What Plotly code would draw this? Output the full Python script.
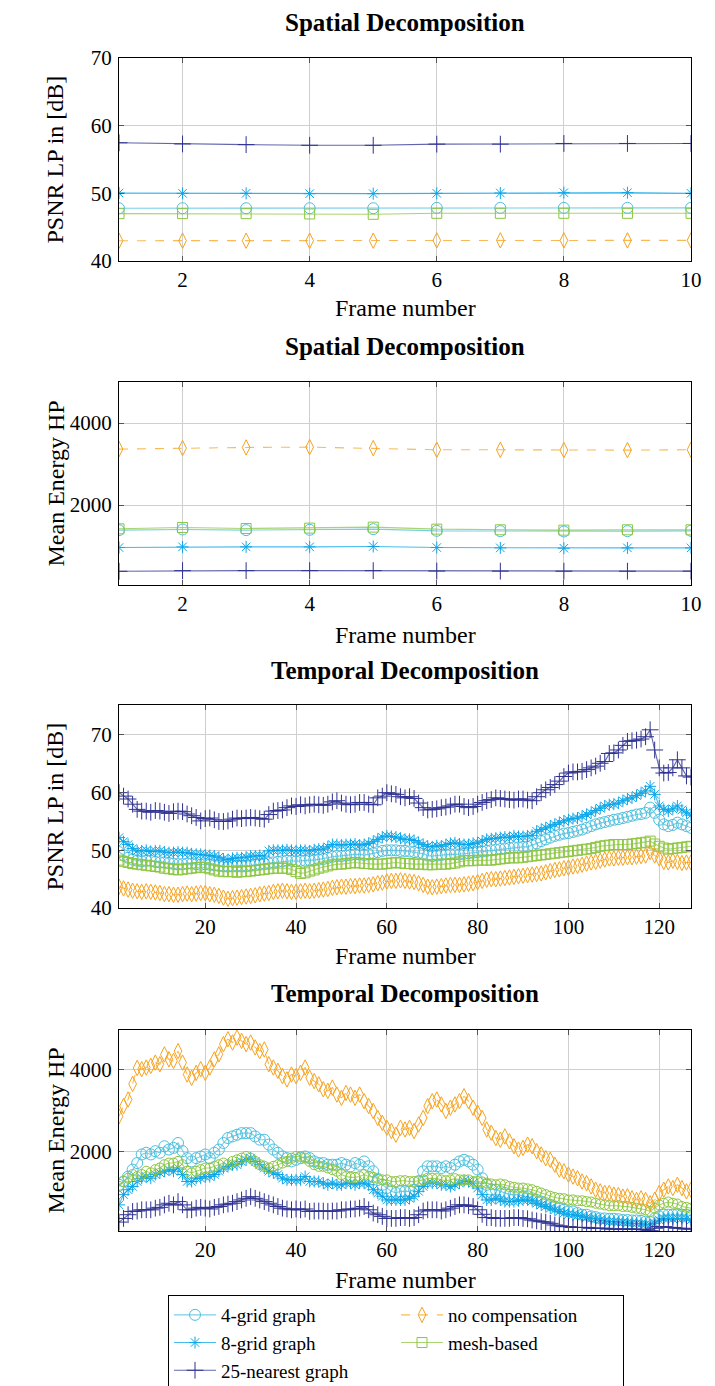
import plotly.graph_objects as go

# ---------------- data ----------------
frames_s = [1, 2, 3, 4, 5, 6, 7, 8, 9, 10]
frames_t = list(range(1, 128))

series_names = ["4-grid graph", "8-grid graph", "25-nearest graph", "no compensation", "mesh-based"]

# Spatial decomposition, PSNR LP [dB]
s_lp_4grid = [47.8, 47.8, 47.8, 47.8, 47.8, 47.85, 47.85, 47.85, 47.85, 47.85]
s_lp_8grid = [50.05, 50.0, 50.0, 49.95, 49.95, 50.0, 50.05, 50.1, 50.1, 50.0]
s_lp_25near = [57.47, 57.3, 57.2, 57.1, 57.1, 57.27, 57.27, 57.37, 57.37, 57.37]
s_lp_nocomp = [43.0, 43.0, 43.0, 43.0, 43.0, 43.05, 43.05, 43.05, 43.05, 43.05]
s_lp_mesh = [47.0, 47.0, 47.0, 46.95, 46.9, 47.05, 47.05, 47.05, 47.05, 47.05]

# Spatial decomposition, mean energy HP
s_hp_4grid = [1388, 1404, 1388, 1396, 1412, 1371, 1363, 1355, 1363, 1371]
s_hp_8grid = [963, 980, 980, 980, 988, 963, 955, 947, 955, 955]
s_hp_25near = [384, 400, 400, 400, 400, 390, 388, 386, 386, 388]
s_hp_nocomp = [3363, 3388, 3404, 3412, 3388, 3347, 3347, 3339, 3339, 3347]
s_hp_mesh = [1420, 1453, 1428, 1437, 1461, 1412, 1396, 1388, 1396, 1396]

# Temporal decomposition, PSNR LP [dB]
t_lp_25near = [60.0, 59.4, 58.9, 58.0, 57.1, 56.8, 56.8, 56.6, 56.9, 56.8,
               56.6, 56.4, 56.7, 56.8, 56.7, 56.3, 56.0, 55.7, 55.1, 55.5,
               55.6, 55.3, 55.0, 55.0, 55.1, 55.4, 55.6, 55.5, 55.6, 55.7,
               55.6, 55.5, 55.4, 56.2, 56.8, 56.9, 57.0, 57.4, 57.7, 57.6,
               57.9, 57.7, 57.9, 58.0, 57.9, 57.8, 58.0, 58.4, 58.6, 58.2,
               58.0, 57.9, 58.0, 58.3, 58.3, 58.0, 57.9, 59.1, 59.4, 60.0,
               59.8, 59.7, 59.3, 59.1, 59.3, 59.0, 58.2, 57.4, 57.0, 57.1,
               57.2, 57.4, 57.5, 57.7, 58.0, 58.0, 57.6, 57.4, 57.6, 58.0,
               58.3, 58.6, 58.8, 59.1, 59.0, 58.9, 58.8, 58.7, 58.9, 58.9,
               58.7, 58.6, 59.3, 60.0, 60.5, 60.9, 61.4, 62.0, 62.8, 63.4,
               63.6, 63.6, 63.7, 64.0, 64.3, 64.6, 65.1, 65.4, 66.8, 66.9,
               67.4, 68.2, 68.9, 69.0, 69.1, 69.3, 69.7, 70.9, 67.4, 64.3,
               63.4, 63.5, 64.3, 65.7, 64.3, 62.9, 62.7]
t_lp_8grid = [52.2, 51.5, 51.0, 50.3, 49.9, 49.9, 50.0, 49.8, 49.9, 49.9,
              49.7, 49.6, 49.6, 49.7, 49.6, 49.6, 49.4, 49.3, 49.3, 49.2,
              49.1, 49.0, 48.8, 48.5, 48.4, 48.6, 48.7, 48.7, 48.8, 49.0,
              49.0, 49.1, 49.0, 49.9, 50.0, 50.0, 50.0, 50.1, 50.0, 49.9,
              50.0, 50.0, 49.9, 50.1, 50.2, 50.2, 50.6, 51.0, 51.0, 50.9,
              51.0, 51.0, 51.1, 50.9, 51.0, 51.2, 51.5, 51.9, 52.3, 52.5,
              52.4, 52.3, 52.1, 51.9, 51.9, 51.7, 51.3, 51.0, 50.7, 50.6,
              50.8, 50.7, 51.0, 51.2, 51.3, 51.1, 51.0, 51.0, 51.2, 51.3,
              51.6, 51.9, 52.0, 52.1, 52.2, 52.3, 52.2, 52.5, 52.4, 52.4,
              52.5, 52.6, 53.3, 53.6, 53.9, 54.2, 54.5, 54.8, 55.1, 55.3,
              55.5, 55.6, 55.9, 56.2, 56.5, 56.9, 57.3, 57.7, 57.9, 58.0,
              58.2, 58.6, 58.9, 59.1, 59.5, 59.9, 60.3, 61.1, 59.7, 57.7,
              57.1, 56.8, 57.2, 57.7, 57.0, 56.5, 56.1]
t_lp_4grid = [49.7, 49.2, 48.7, 48.4, 48.2, 48.1, 48.2, 48.2, 48.0, 47.9,
              47.9, 47.8, 47.7, 47.6, 47.6, 47.7, 47.7, 47.6, 47.5, 47.6,
              47.5, 47.4, 47.3, 47.3, 47.2, 47.3, 47.3, 47.3, 47.3, 47.4,
              47.5, 47.6, 47.7, 47.8, 47.9, 48.0, 48.1, 48.2, 48.2, 48.1,
              48.2, 48.2, 48.3, 48.3, 48.4, 48.5, 48.7, 48.9, 49.0, 49.0,
              49.1, 49.2, 49.3, 49.3, 49.2, 49.3, 49.5, 49.7, 49.9, 50.0,
              50.0, 50.0, 49.9, 49.9, 49.8, 49.7, 49.6, 49.4, 49.1, 49.0,
              49.1, 49.2, 49.3, 49.3, 49.3, 49.3, 49.4, 49.5, 49.6, 49.7,
              49.8, 49.9, 50.0, 50.1, 50.2, 50.3, 50.4, 50.5, 50.5, 50.6,
              50.6, 50.9, 51.2, 51.6, 51.9, 52.2, 52.5, 52.7, 52.9, 53.0,
              53.2, 53.4, 53.6, 53.9, 54.2, 54.5, 54.7, 54.9, 55.1, 55.3,
              55.4, 55.6, 55.8, 56.0, 56.2, 56.3, 56.5, 57.4, 56.5, 55.3,
              54.5, 54.2, 54.4, 54.8, 54.5, 54.2, 53.9]
t_lp_mesh = [48.3, 48.1, 47.9, 47.7, 47.6, 47.5, 47.4, 47.3, 47.2, 47.1,
             46.9, 46.8, 46.7, 46.6, 46.7, 46.8, 46.9, 47.0, 47.1, 47.0,
             46.8, 46.6, 46.4, 46.3, 46.3, 46.3, 46.2, 46.3, 46.3, 46.4,
             46.5, 46.6, 46.7, 46.8, 46.9, 46.9, 46.9, 46.9, 46.7, 46.3,
             46.0, 46.1, 46.4, 46.6, 46.9, 47.1, 47.3, 47.5, 47.6, 47.6,
             47.7, 47.8, 47.9, 47.8, 47.7, 47.7, 47.6, 47.6, 47.6, 47.7,
             47.8, 47.9, 47.8, 47.7, 47.7, 47.6, 47.6, 47.6, 47.5, 47.5,
             47.6, 47.6, 47.6, 47.7, 47.8, 48.0, 48.2, 48.2, 48.2, 48.3,
             48.3, 48.3, 48.3, 48.4, 48.5, 48.6, 48.7, 48.7, 48.7, 48.8,
             48.9, 49.0, 49.1, 49.2, 49.3, 49.4, 49.5, 49.6, 49.7, 49.8,
             49.9, 50.0, 50.1, 50.2, 50.3, 50.5, 50.7, 50.8, 50.9, 51.0,
             51.0, 51.0, 51.0, 51.1, 51.2, 51.3, 51.4, 51.6, 51.1, 50.7,
             50.4, 50.2, 50.3, 50.4, 50.5, 50.6, 50.7]
t_lp_nocomp = [43.7, 43.4, 43.2, 43.0, 42.9, 42.8, 42.9, 42.8, 42.7, 42.6,
               42.4, 42.4, 42.3, 42.3, 42.4, 42.5, 42.4, 42.5, 42.6, 42.6,
               42.4, 42.3, 42.1, 41.8, 41.6, 41.7, 41.8, 41.9, 42.0, 42.1,
               42.2, 42.4, 42.5, 42.6, 42.8, 42.9, 43.0, 42.9, 42.8, 42.8,
               42.9, 43.0, 42.9, 43.0, 43.1, 43.2, 43.3, 43.5, 43.6, 43.7,
               43.7, 43.8, 43.8, 43.9, 43.9, 44.0, 44.1, 44.3, 44.4, 44.6,
               44.7, 44.7, 44.8, 44.7, 44.6, 44.5, 44.3, 44.0, 43.7, 43.6,
               43.7, 43.8, 43.9, 44.0, 44.0, 44.0, 44.1, 44.2, 44.3, 44.5,
               44.7, 44.9, 45.0, 45.0, 45.1, 45.2, 45.3, 45.4, 45.5, 45.6,
               45.7, 45.8, 45.9, 46.0, 46.2, 46.4, 46.6, 46.7, 46.9, 47.0,
               47.2, 47.3, 47.5, 47.7, 47.9, 48.0, 48.2, 48.4, 48.6, 48.6,
               48.7, 48.7, 48.8, 48.8, 48.9, 49.0, 49.1, 49.7, 49.1, 48.6,
               48.0, 47.9, 48.2, 48.0, 47.8, 47.9, 47.9]

# Temporal decomposition, mean energy HP
t_hp_nocomp = [2870, 3120, 3280, 3660, 4050, 4020, 4060, 4100, 4180, 4140,
               4380, 4260, 4220, 4460, 4180, 3890, 3810, 3930, 4020, 3930,
               4060, 4260, 4380, 4630, 4750, 4670, 4790, 4710, 4630, 4670,
               4550, 4460, 4500, 4140, 4060, 3980, 3850, 3770, 3890, 3850,
               3930, 4060, 3810, 3730, 3650, 3530, 3490, 3570, 3400, 3320,
               3440, 3400, 3320, 3400, 3240, 3120, 3000, 2830, 2710, 2590,
               2510, 2420, 2590, 2550, 2590, 2510, 2670, 2830, 3120, 3240,
               3280, 3160, 3000, 3080, 3160, 3240, 3360, 3240, 3080, 2960,
               2830, 2550, 2470, 2340, 2300, 2380, 2260, 2140, 2060, 2100,
               2180, 2140, 2020, 1940, 1850, 1810, 1690, 1570, 1530, 1450,
               1400, 1360, 1280, 1240, 1160, 1080, 1040, 1000, 1000, 960,
               950, 910, 920, 870, 830, 870, 830, 750, 830, 1000,
               1080, 1160, 1120, 1200, 1120, 1040, 1080]
t_hp_4grid = [1200, 1280, 1400, 1570, 1730, 1940, 1980, 1940, 2020, 1980,
              2140, 2060, 2100, 2220, 2020, 1850, 1770, 1850, 1890, 1940,
              1850, 1980, 2060, 2220, 2340, 2380, 2420, 2460, 2460, 2460,
              2380, 2300, 2300, 2180, 2060, 1980, 1890, 1850, 1770, 1810,
              1850, 1890, 1850, 1770, 1730, 1730, 1690, 1690, 1690, 1730,
              1690, 1650, 1730, 1690, 1770, 1650, 1530, 1320, 1200, 1120,
              1040, 1000, 1040, 1040, 1040, 1080, 1280, 1530, 1650, 1650,
              1650, 1610, 1650, 1610, 1690, 1770, 1810, 1770, 1690, 1570,
              1360, 1200, 1080, 1080, 1040, 1000, 960, 960, 960, 920,
              920, 870, 830, 790, 750, 710, 670, 630, 590, 550,
              550, 510, 470, 470, 430, 410, 380, 380, 370, 370,
              360, 340, 340, 330, 330, 320, 300, 290, 380, 430,
              470, 470, 470, 480, 470, 470, 450]
t_hp_mesh = [1160, 1280, 1360, 1450, 1400, 1450, 1530, 1490, 1570, 1610,
             1690, 1730, 1730, 1770, 1690, 1530, 1490, 1530, 1570, 1610,
             1610, 1650, 1690, 1730, 1690, 1770, 1810, 1850, 1890, 1850,
             1770, 1690, 1650, 1610, 1650, 1690, 1730, 1770, 1850, 1890,
             1890, 1850, 1770, 1690, 1650, 1650, 1610, 1570, 1530, 1450,
             1400, 1380, 1380, 1400, 1450, 1400, 1380, 1360, 1320, 1320,
             1280, 1280, 1300, 1300, 1280, 1280, 1300, 1320, 1360, 1360,
             1350, 1320, 1300, 1320, 1350, 1320, 1320, 1320, 1280, 1280,
             1270, 1240, 1220, 1200, 1220, 1200, 1160, 1140, 1120, 1120,
             1100, 1080, 1040, 1000, 960, 920, 890, 870, 860, 830,
             830, 810, 810, 790, 780, 750, 730, 710, 690, 690,
             690, 670, 670, 650, 630, 610, 590, 550, 630, 710,
             750, 780, 750, 730, 670, 650, 630]
t_hp_8grid = [710, 960, 1080, 1160, 1280, 1360, 1400, 1360, 1450, 1490,
              1530, 1570, 1530, 1610, 1450, 1280, 1280, 1360, 1360, 1400,
              1400, 1450, 1530, 1610, 1650, 1690, 1690, 1770, 1810, 1850,
              1770, 1690, 1610, 1530, 1490, 1450, 1360, 1320, 1320, 1320,
              1320, 1400, 1280, 1280, 1280, 1240, 1200, 1240, 1200, 1200,
              1240, 1240, 1200, 1240, 1240, 1200, 1080, 1000, 920, 830,
              830, 830, 830, 830, 870, 920, 1040, 1160, 1240, 1240,
              1240, 1200, 1200, 1160, 1200, 1240, 1300, 1280, 1240, 1120,
              960, 830, 830, 870, 830, 790, 790, 790, 810, 830,
              830, 810, 750, 710, 670, 630, 590, 550, 510, 480,
              470, 450, 430, 400, 380, 370, 340, 320, 300, 300,
              290, 290, 270, 260, 260, 250, 240, 220, 260, 340,
              380, 380, 370, 380, 380, 370, 340]
t_hp_25near = [290, 380, 470, 550, 560, 590, 590, 590, 630, 650,
               710, 750, 710, 790, 710, 590, 590, 630, 650, 630,
               610, 650, 670, 710, 730, 750, 790, 830, 870, 910,
               870, 830, 790, 750, 710, 670, 630, 610, 590, 610,
               590, 610, 550, 560, 560, 560, 550, 560, 560, 590,
               590, 610, 610, 630, 670, 590, 510, 470, 430, 380,
               380, 380, 400, 400, 380, 400, 470, 560, 590, 590,
               590, 560, 590, 630, 670, 710, 710, 690, 670, 590,
               480, 400, 400, 380, 380, 380, 380, 400, 400, 380,
               370, 340, 320, 300, 290, 260, 220, 200, 180, 180,
               160, 160, 160, 160, 140, 140, 140, 140, 120, 120,
               120, 120, 120, 120, 120, 110, 100, 80, 140, 180,
               180, 160, 160, 140, 140, 120, 120]

# ---------------- styles ----------------
C_4 = "#4cbfdd"
C_8 = "#0ca6e8"
C_25 = "#2e3190"
C_NC = "#f7a21c"
C_MESH = "#8cc63f"


def rgba(hex_color, a):
    h = hex_color.lstrip("#")
    return "rgba(%d,%d,%d,%.2f)" % (int(h[0:2], 16), int(h[2:4], 16), int(h[4:6], 16), a)


style = {
    "4-grid graph": dict(color=C_4, symbol="circle-open", size=11, dash="solid", rank=1),
    "no compensation": dict(color=C_NC, symbol="diamond-tall-open", size=11, dash="dash", rank=2),
    "8-grid graph": dict(color=C_8, symbol="asterisk-open", size=10, dash="solid", rank=3),
    "mesh-based": dict(color=C_MESH, symbol="square-open", size=10, dash="solid", rank=4),
    "25-nearest graph": dict(color=C_25, symbol="cross-thin-open", size=12, dash="solid", rank=5),
}

FONT = "Liberation Serif, Times New Roman, serif"
FS_LABEL = 24
FS_TITLE = 25
FS_TICK = 21
FS_LEG = 19

fig = go.Figure()

panels = [
    ("", frames_s, {"4-grid graph": s_lp_4grid, "8-grid graph": s_lp_8grid, "25-nearest graph": s_lp_25near,
                    "no compensation": s_lp_nocomp, "mesh-based": s_lp_mesh}, True, {}),
    ("2", frames_s, {"4-grid graph": s_hp_4grid, "8-grid graph": s_hp_8grid, "25-nearest graph": s_hp_25near,
                     "no compensation": s_hp_nocomp, "mesh-based": s_hp_mesh}, False, {}),
    ("3", frames_t, {"4-grid graph": t_lp_4grid, "8-grid graph": t_lp_8grid, "25-nearest graph": t_lp_25near,
                     "no compensation": t_lp_nocomp, "mesh-based": t_lp_mesh}, False, {}),
    ("4", frames_t, {"4-grid graph": t_hp_4grid, "8-grid graph": t_hp_8grid, "25-nearest graph": t_hp_25near,
                     "no compensation": t_hp_nocomp, "mesh-based": t_hp_mesh}, False,
     {"mesh-based": "circle-open"}),
]

draw_order = ["4-grid graph", "8-grid graph", "25-nearest graph", "mesh-based", "no compensation"]

for suffix, xs, data, show, sym_override in panels:
    for name in draw_order:
        st = style[name]
        fig.add_trace(go.Scatter(
            x=xs, y=data[name], name=name, mode="lines+markers",
            xaxis="x" + suffix, yaxis="y" + suffix,
            showlegend=show, legendrank=st["rank"],
            line=dict(color=rgba(st["color"], 0.75), width=1.1, dash=st["dash"]),
            marker=dict(symbol=sym_override.get(name, st["symbol"]), size=st["size"],
                        color=st["color"], line=dict(color=st["color"], width=1)),
        ))

# geometry (pixels)
W, H = 715, 1386
L, R = 111, 683
top_m, bot_m = 50, 163
ph = H - top_m - bot_m
pw = R - L


def dom(top_px, bot_px):
    return [(H - bot_m - bot_px) / ph, (H - bot_m - top_px) / ph]


def ypaper(px):
    return (H - bot_m - px) / ph


panel_px = [(50, 253), (374, 577), (697, 900), (1022, 1223)]
doms = [dom(a, b) for a, b in panel_px]

axis_common = dict(
    showline=True, linecolor="#000000", linewidth=1, mirror="allticks",
    ticks="inside", ticklen=5, tickcolor="#555555",
    showgrid=True, gridcolor="#cfcfcf", gridwidth=1, zeroline=False,
    tickfont=dict(family=FONT, size=FS_TICK, color="#000000"),
    automargin=False,
)

layout = dict(
    width=W, height=H,
    margin=dict(l=L, r=W - R, t=top_m, b=bot_m, autoexpand=False),
    plot_bgcolor="white", paper_bgcolor="white",
    font=dict(family=FONT, size=FS_LABEL, color="#000000"),
    showlegend=True,
    legend=dict(
        orientation="h", xref="container", yref="container",
        x=160 / W, y=1 - 1287 / H, xanchor="left", yanchor="top",
        entrywidth=170, entrywidthmode="pixels",
        bordercolor="#000000", borderwidth=1, bgcolor="white",
        font=dict(family=FONT, size=FS_LEG), itemwidth=42, tracegroupgap=0,
    ),
)

x_specs = [([1, 10], [2, 4, 6, 8, 10]), ([1, 10], [2, 4, 6, 8, 10]),
           ([1, 127], [20, 40, 60, 80, 100, 120]), ([1, 127], [20, 40, 60, 80, 100, 120])]
y_specs = [([40, 70], [40, 50, 60, 70], "PSNR LP in [dB]"),
           ([50, 5000], [2000, 4000], "Mean Energy HP"),
           ([40, 75.2], [40, 50, 60, 70], "PSNR LP in [dB]"),
           ([73, 4975], [2000, 4000], "Mean Energy HP")]

for i in range(4):
    sx = "" if i == 0 else str(i + 1)
    layout["xaxis" + sx] = dict(axis_common, domain=[0, 1], anchor="y" + sx, range=x_specs[i][0],
                                tickvals=x_specs[i][1], ticklabelstandoff=0)
    layout["yaxis" + sx] = dict(axis_common, domain=doms[i], anchor="x" + sx, range=y_specs[i][0],
                                tickvals=y_specs[i][1], ticklabelstandoff=2)

fig.update_layout(**layout)

titles = ["Spatial Decomposition", "Spatial Decomposition", "Temporal Decomposition", "Temporal Decomposition"]
title_px = [15, 338, 662, 985]
xlabel_px = [300, 627, 948, 1272]
for i in range(4):
    fig.add_annotation(text="<b>%s</b>" % titles[i], xref="paper", yref="paper",
                       x=0.5, y=ypaper(title_px[i]), xanchor="center", yanchor="middle",
                       showarrow=False, font=dict(family=FONT, size=FS_TITLE, color="#000000"))
    fig.add_annotation(text="Frame number", xref="paper", yref="paper",
                       x=0.5, y=ypaper(xlabel_px[i]), xanchor="center", yanchor="middle",
                       showarrow=False, font=dict(family=FONT, size=FS_LABEL, color="#000000"))
    top_px, bot_px = panel_px[i]
    fig.add_annotation(text=y_specs[i][2], xref="paper", yref="paper", textangle=-90,
                       x=(47 - L) / pw, y=ypaper((top_px + bot_px) / 2),
                       xanchor="center", yanchor="middle",
                       showarrow=False, font=dict(family=FONT, size=FS_LABEL, color="#000000"))

fig.write_html("out.html")
